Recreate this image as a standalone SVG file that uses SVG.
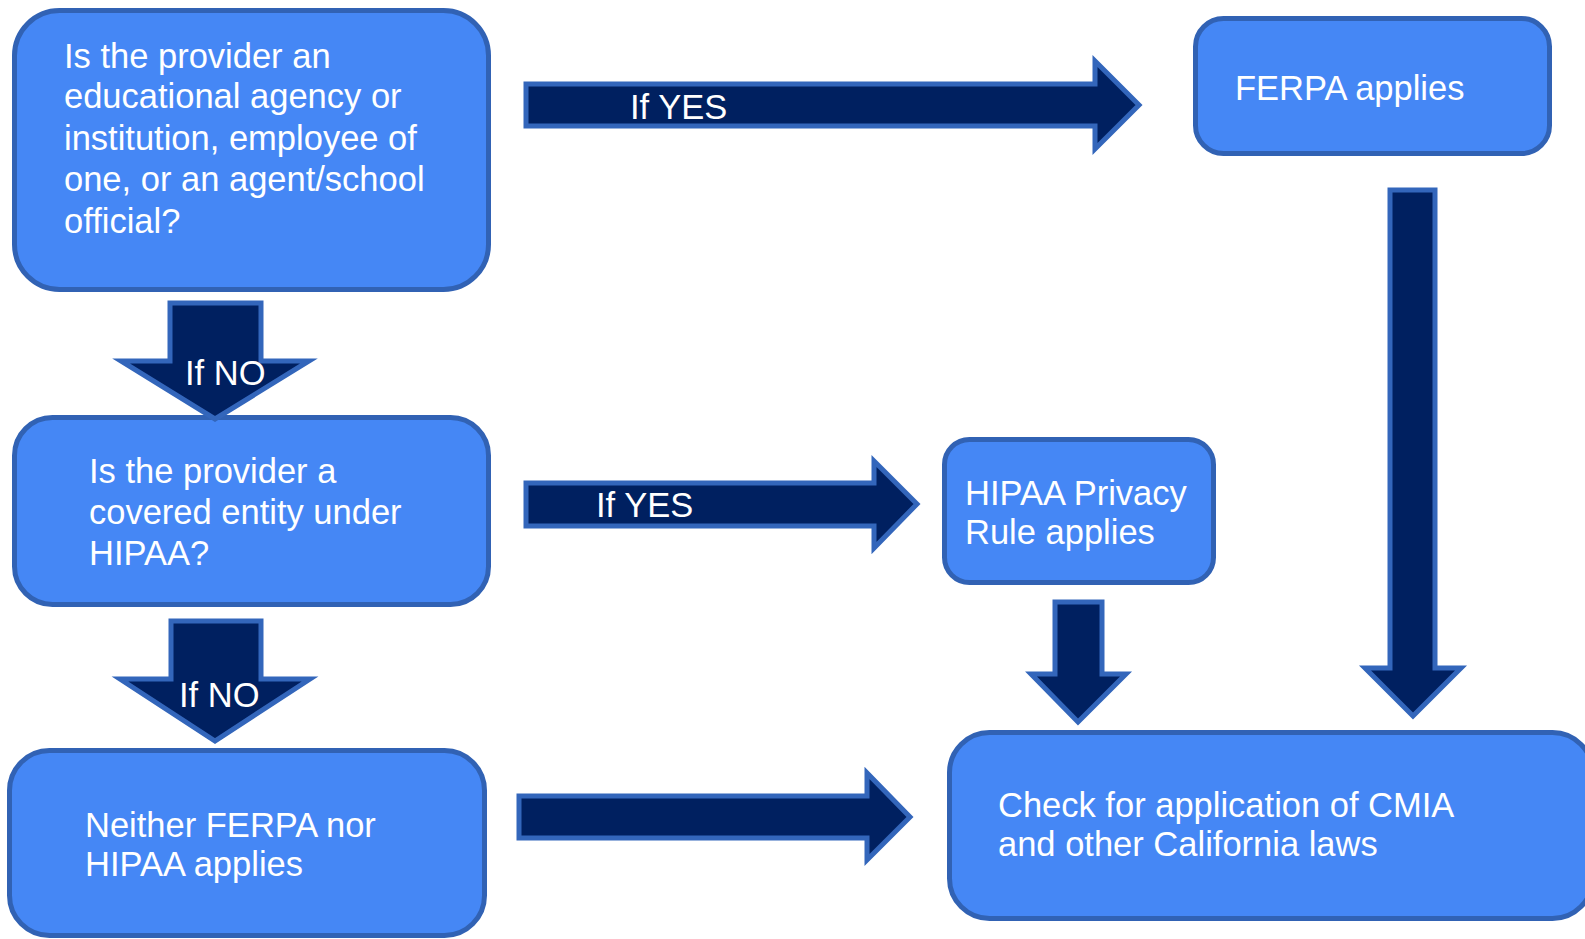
<svg xmlns="http://www.w3.org/2000/svg" width="1585" height="939" viewBox="0 0 1585 939">
<style>
.box{fill:#4587F5;stroke:#3162B4;stroke-width:5}
.arr{fill:#002060;stroke:#3366BB;stroke-width:5;stroke-linejoin:miter}
.t{font-family:"Liberation Sans",Arial,sans-serif;font-size:34.5px;fill:#FFFFFF}
</style>
<rect width="1585" height="939" fill="#FFFFFF"/>
<g id="node-educational">
<rect class="box" x="14.5" y="10.5" width="474" height="279" rx="45"/>
<text class="t" x="64" y="68">Is the provider an</text>
<text class="t" x="64" y="108">educational agency or</text>
<text class="t" x="64" y="150">institution, employee of</text>
<text class="t" x="64" y="191">one, or an agent/school</text>
<text class="t" x="64" y="233">official?</text>
</g>
<g id="node-ferpa">
<rect class="box" x="1195.5" y="18.5" width="354" height="135" rx="28"/>
<text class="t" x="1235" y="100">FERPA applies</text>
</g>
<g id="node-covered">
<rect class="box" x="14.5" y="417.5" width="474" height="187" rx="38"/>
<text class="t" x="89" y="483">Is the provider a</text>
<text class="t" x="89" y="524">covered entity under</text>
<text class="t" x="89" y="565">HIPAA?</text>
</g>
<g id="node-hipaa">
<rect class="box" x="944.5" y="439.5" width="269" height="143" rx="25"/>
<text class="t" x="965" y="505">HIPAA Privacy</text>
<text class="t" x="965" y="544">Rule applies</text>
</g>
<g id="node-neither">
<rect class="box" x="9.5" y="750.5" width="475" height="185" rx="40"/>
<text class="t" x="85" y="837">Neither FERPA nor</text>
<text class="t" x="85" y="876">HIPAA applies</text>
</g>
<g id="node-cmia">
<rect class="box" x="949.5" y="732.5" width="643" height="186" rx="40"/>
<text class="t" x="998" y="817">Check for application of CMIA</text>
<text class="t" x="998" y="856">and other California laws</text>
</g>
<g id="connectors">
<polygon class="arr" points="526,84 1095,84 1095,61 1139,105 1095,149 1095,126 526,126"/>
<text class="t" x="630" y="119">If YES</text>
<polygon class="arr" points="1390,190 1435,190 1435,668 1461,668 1413,716 1365,668 1390,668"/>
<polygon class="arr" points="170,303 261,303 261,361 309,361 215,419 121,361 170,361"/>
<text class="t" x="185" y="385">If NO</text>
<polygon class="arr" points="526,483 874,483 874,461 917,504 874,548 874,526 526,526"/>
<text class="t" x="596" y="517">If YES</text>
<polygon class="arr" points="1055,602 1102,602 1102,674 1126,674 1078,722 1031,674 1055,674"/>
<polygon class="arr" points="171,621 261,621 261,679 310,679 215,741 120,679 171,679"/>
<text class="t" x="179" y="707">If NO</text>
<polygon class="arr" points="519,796 867,796 867,773 910,817 867,860 867,838 519,838"/>
</g>
</svg>
